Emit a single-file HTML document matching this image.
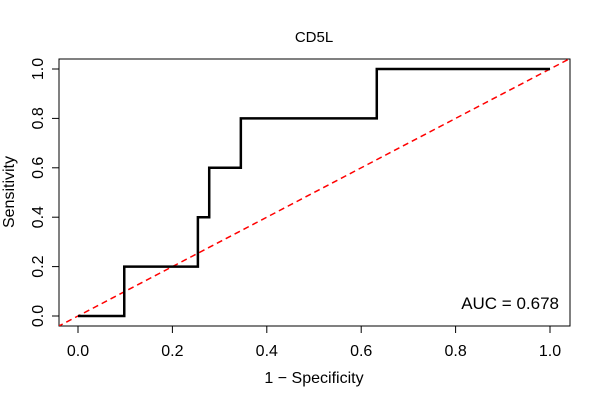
<!DOCTYPE html>
<html><head><meta charset="utf-8"><style>
body{margin:0;background:#fff}
svg text{font-family:"Liberation Sans",Arial,sans-serif;fill:#000}
</style></head><body>
<svg width="600" height="400" viewBox="0 0 600 400">
<defs><clipPath id="pc"><rect x="59" y="59" width="511" height="267"/></clipPath></defs>
<text x="314" y="42" font-size="15" text-anchor="middle">CD5L</text>
<rect x="59" y="59" width="511" height="267" fill="none" stroke="#000" stroke-width="1"/>
<g id="xaxis"></g>
<g id="yaxis"></g>
<text x="314" y="383" font-size="16" text-anchor="middle">1 − Specificity</text>
<text transform="translate(14,192) rotate(-90)" font-size="16" text-anchor="middle">Sensitivity</text>
<g clip-path="url(#pc)">
<line id="diag" stroke="#ff0000" stroke-width="1.5" stroke-dasharray="6,4"/>
<path id="roc" fill="none" stroke="#000" stroke-width="2.5"/>
</g>
<text x="559" y="309" font-size="17" text-anchor="end">AUC = 0.678</text>
</svg>
<script>
const fpr=[0,0.098,0.098,0.254,0.254,0.278,0.278,0.345,0.345,0.633,0.633,1];
const tpr=[0,0,0.2,0.2,0.4,0.4,0.6,0.6,0.8,0.8,1,1];
const xTicks=[0,0.2,0.4,0.6,0.8,1];
const yTicks=[0,0.2,0.4,0.6,0.8,1];
const sx=v=>78+v*472, sy=v=>316-v*247;
const NS="http://www.w3.org/2000/svg";
let d="";fpr.forEach((v,i)=>{d+=(i?"L":"M")+sx(v)+","+sy(tpr[i]);});
document.getElementById('roc').setAttribute('d',d);
const dg=document.getElementById('diag');
dg.setAttribute('x1',sx(-0.1));dg.setAttribute('y1',sy(-0.1));dg.setAttribute('x2',sx(1.1));dg.setAttribute('y2',sy(1.1));
const xa=document.getElementById('xaxis');
xTicks.forEach(t=>{const l=document.createElementNS(NS,'line');


l.setAttribute('x1',sx(t));l.setAttribute('x2',sx(t));l.setAttribute('y1',326);l.setAttribute('y2',333);l.setAttribute('stroke','#000');xa.appendChild(l);
const tx=document.createElementNS(NS,'text');


tx.setAttribute('x',sx(t));tx.setAttribute('y',356);tx.setAttribute('font-size','16');tx.setAttribute('text-anchor','middle');tx.textContent=t.toFixed(1);xa.appendChild(tx);});
const ya=document.getElementById('yaxis');
yTicks.forEach(t=>{const l=document.createElementNS(NS,'line');


l.setAttribute('x1',52);l.setAttribute('x2',59);l.setAttribute('y1',sy(t));l.setAttribute('y2',sy(t));l.setAttribute('stroke','#000');ya.appendChild(l);
const tx=document.createElementNS(NS,'text');


tx.setAttribute('transform','translate(43,'+sy(t)+') rotate(-90)');tx.setAttribute('font-size','16');tx.setAttribute('text-anchor','middle');tx.textContent=t.toFixed(1);ya.appendChild(tx);});
</script>
</body></html>
